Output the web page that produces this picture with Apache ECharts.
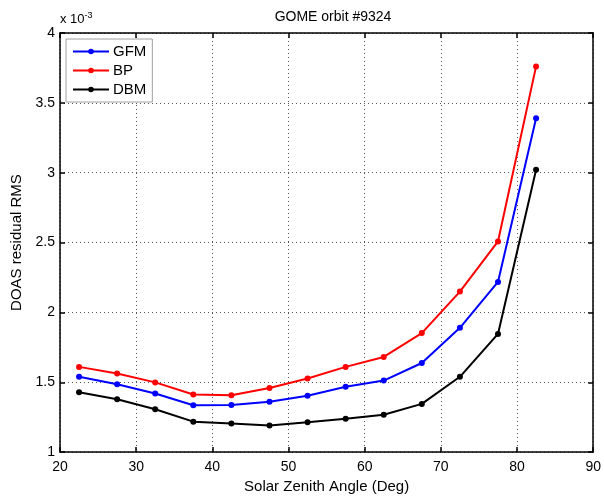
<!DOCTYPE html>
<html>
<head>
<meta charset="utf-8">
<script src="https://cdn.jsdelivr.net/npm/echarts@6/dist/echarts.min.js"></script>
<style>html,body{margin:0;padding:0;background:#fff;overflow:hidden}#c{position:fixed;left:0;top:0;width:100vw;height:100vh}</style>
</head>
<body>
<div id="c"></div>
<script>
var sza = [22.5, 27.5, 32.5, 37.5, 42.5, 47.5, 52.5, 57.5, 62.5, 67.5, 72.5, 77.5, 82.5];
var gfm = [1.54, 1.485, 1.42, 1.335, 1.338, 1.36, 1.404, 1.468, 1.512, 1.638, 1.89, 2.218, 3.39];
var bp  = [1.61, 1.562, 1.499, 1.412, 1.407, 1.459, 1.527, 1.61, 1.681, 1.852, 2.149, 2.508, 3.761];
var dbm = [1.428, 1.378, 1.307, 1.218, 1.204, 1.191, 1.213, 1.239, 1.267, 1.345, 1.539, 1.846, 3.021];
var xTicks = [20, 30, 40, 50, 60, 70, 80, 90];
var yTicks = [1, 1.5, 2, 2.5, 3, 3.5, 4];
var seriesNames = ['GFM', 'BP', 'DBM'];
var seriesColors = ['#0000ff', '#ff0000', '#000000'];
var seriesData = [gfm, bp, dbm];

var font = 'Liberation Sans, Arial, sans-serif';
var chart = echarts.init(document.getElementById('c'), null, {renderer: 'canvas'});
function pairs(v) { return sza.map(function (x, i) { return [x, v[i]]; }); }
var axisCommon = {
  type: 'value',
  axisLine: {show: true, onZero: false, lineStyle: {color: '#000', width: 1.5}},
  axisTick: {show: true, inside: true, length: 5, lineStyle: {color: '#000', width: 1.5}},
  minorTick: {show: false}
};
var option = {
  animation: false,
  backgroundColor: '#fff',
  textStyle: {fontFamily: font},
  title: {
    text: 'GOME orbit #9324', left: 328, top: 5, textAlign: 'center',
    textStyle: {fontFamily: font, fontSize: 14, fontWeight: 'normal', color: '#000'}
  },
  legend: {
    left: 66, top: 39, orient: 'vertical',
    data: seriesNames,
    backgroundColor: '#fff', borderColor: '#a0a0a0', borderWidth: 1,
    padding: [4, 6, 4, 6], itemGap: 2, itemWidth: 36, itemHeight: 7,
    textStyle: {fontFamily: font, fontSize: 15, lineHeight: 17, color: '#000', padding: [0, 0, 0, -1]}
  },
  grid: {left: 60, top: 33, right: 7, bottom: 43},
  xAxis: [
    Object.assign({}, axisCommon, {
      position: 'bottom', min: 20, max: 90, interval: 10,
      name: 'Solar Zenith Angle (Deg)', nameLocation: 'middle', nameGap: 24,
      nameTextStyle: {fontFamily: font, fontSize: 15, color: '#000'},
      axisLabel: {color: '#000', fontFamily: font, fontSize: 14, margin: 8,
        formatter: function (v) { return xTicks.indexOf(v) >= 0 ? String(v) : ''; }},
      splitLine: {show: true, lineStyle: {color: '#555', type: [1, 3], width: 1}}
    }),
    Object.assign({}, axisCommon, {
      position: 'top', min: 20, max: 90, interval: 10,
      axisLabel: {show: false}, splitLine: {show: false}
    })
  ],
  yAxis: [
    Object.assign({}, axisCommon, {
      position: 'left', min: 1, max: 4, interval: 0.5,
      name: 'DOAS residual RMS', nameLocation: 'middle', nameGap: 32, nameRotate: 90,
      nameTextStyle: {fontFamily: font, fontSize: 15, color: '#000'},
      axisLabel: {color: '#000', fontFamily: font, fontSize: 14, margin: 5,
        formatter: function (v) { return yTicks.indexOf(v) >= 0 ? String(v) : ''; }},
      splitLine: {show: true, lineStyle: {color: '#555', type: [1, 3], width: 1}}
    }),
    Object.assign({}, axisCommon, {
      position: 'right', min: 1, max: 4, interval: 0.5,
      axisLabel: {show: false}, splitLine: {show: false}
    })
  ],
  graphic: [{
    type: 'text', left: 60, top: 11,
    style: {
      text: '{a|x 10}{b|-3}',
      rich: {
        a: {fontFamily: font, fontSize: 13, fill: '#000', color: '#000'},
        b: {fontFamily: font, fontSize: 9, fill: '#000', color: '#000', verticalAlign: 'top', padding: [0, 0, 8, 0]}
      }
    }
  }],
  series: seriesNames.map(function (n, i) {
    return {
      name: n, type: 'line', data: pairs(seriesData[i]),
      xAxisIndex: 0, yAxisIndex: 0,
      symbol: 'circle', symbolSize: 6, showSymbol: true,
      lineStyle: {color: seriesColors[i], width: 2},
      itemStyle: {color: seriesColors[i]},
      z: 3 + (2 - i)
    };
  })
};
chart.setOption(option);
</script>
</body>
</html>
